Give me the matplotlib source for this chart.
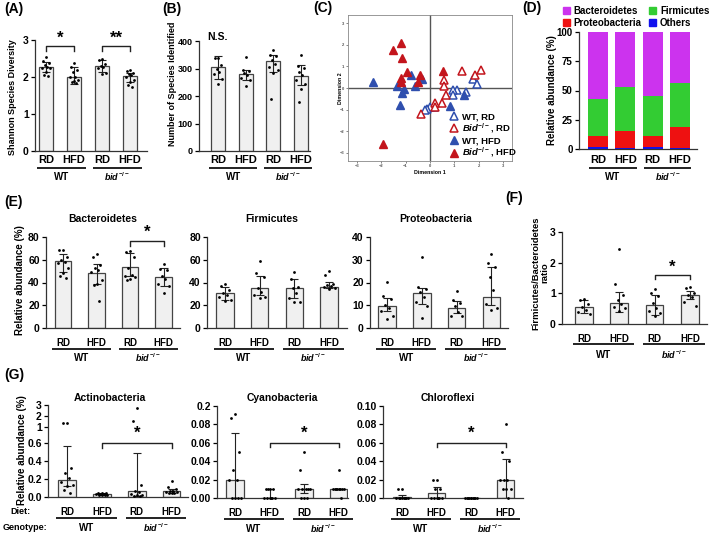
import numpy as np
import matplotlib
matplotlib.use('Agg')
import matplotlib.pyplot as plt
from matplotlib import transforms
from matplotlib.patches import Patch

plt.rcParams.update({'font.family': 'Liberation Sans', 'font.weight': 'bold',
                     'mathtext.fontset': 'custom',
                     'mathtext.rm': 'Liberation Sans:bold',
                     'mathtext.it': 'Liberation Sans:italic:bold',
                     'axes.linewidth': 0.9, 'axes.edgecolor': '#333333'})

W, H = 709, 534
diets = ['RD', 'HFD', 'RD', 'HFD']
genotypes = ['WT', r'$\mathit{bid}^{-/-}$']

# (A) Shannon species diversity
shannon_mean = [2.28, 1.99, 2.29, 2.02]
shannon_lo = [2.14, 1.81, 2.14, 1.87]
shannon_hi = [2.41, 2.28, 2.46, 2.11]
shannon_pts = [[2.55, 2.43, 2.37, 2.32, 2.28, 2.25, 2.23, 2.14, 2.05, 2.02],
               [2.37, 2.28, 2.20, 2.14, 2.00, 1.99, 1.93, 1.90, 1.87, 1.84],
               [2.50, 2.46, 2.35, 2.30, 2.28, 2.23, 2.11, 2.08],
               [2.20, 2.17, 2.11, 2.08, 2.05, 2.00, 1.93, 1.87, 1.78, 1.72]]

# (B) number of species
species_mean = [305, 279, 326, 273]
species_lo = [262, 260, 287, 239]
species_hi = [345, 296, 350, 311]
species_pts = [[340, 340, 312, 297, 287, 279, 263, 242],
               [342, 296, 291, 284, 275, 267, 257, 235],
               [366, 348, 344, 330, 315, 305, 293, 284, 190],
               [350, 309, 302, 287, 275, 257, 245, 227, 178]]

# (C) PCoA
wt_rd_x = [1.78, 1.92, 1.48, 1.12, 0.96, 0.93, 0.18, 0.0, -0.11, -0.2]
wt_rd_y = [0.4, 0.2, -0.18, -0.08, -0.08, -0.34, -0.88, -0.9, -0.95, -1.03]
bid_rd_x = [2.08, 1.85, 1.33, 0.59, 0.58, 0.64, 0.51, 0.22, 0.22, -0.38]
bid_rd_y = [0.85, 0.58, 0.78, 0.35, 0.08, -0.31, -0.69, -0.69, -0.88, -1.22]
wt_hfd_x = [-2.33, -1.37, -1.05, -1.16, -1.23, -0.77, -0.34, -0.62, 0.82, 1.4]
wt_hfd_y = [0.28, 0.08, -0.03, -0.22, -0.8, 0.58, 0.42, 0.08, -0.85, -0.32]
bid_hfd_x = [-1.21, -1.51, -1.15, -0.96, -1.19, -1.21, -0.41, -0.48, 0.52, -1.92]
bid_hfd_y = [2.08, 1.77, 1.4, 0.72, 0.46, 0.28, 0.58, 0.28, 0.78, -2.57]

# (D) phylum composition (%)
others = [1.7, 1.0, 1.7, 1.0]
proteo = [9.7, 14.3, 9.3, 17.5]
firmic = [31.2, 37.7, 34.0, 37.5]
bacter = [57.4, 47.0, 55.0, 44.0]

# (E) relative abundance
bact_mean = [58.7, 48, 54, 44.5]
bact_lo = [49.5, 39, 46, 37]
bact_hi = [65, 56, 66, 53]
bact_pts = [[69, 69, 62, 60, 58, 57, 53, 48, 46, 44],
            [65, 62, 55, 53, 51, 49, 42, 39, 38, 24],
            [68, 67, 62, 53, 47, 46, 45, 43, 42],
            [56, 52, 51, 46, 43, 39, 37, 30.5]]
firm_mean = [30.5, 35, 35, 36]
firm_lo = [25, 29, 26, 35]
firm_hi = [36, 45.6, 43, 40.7]
firm_pts = [[39, 37, 33, 30.5, 29, 27.6, 25, 24],
            [59, 48, 44.5, 35, 32, 29, 27.6, 26],
            [49.4, 43, 36, 35, 30.5, 26, 23, 23],
            [50, 47, 39, 38, 37, 36, 35, 34]]
prot_mean = [9.7, 15.6, 8.7, 13.8]
prot_lo = [7.6, 10.5, 6.5, 10.2]
prot_hi = [13, 17.5, 12, 26.9]
prot_pts = [[20.4, 14, 12.8, 9.9, 8.7, 7.3, 5.4, 3.9],
            [31, 18.2, 17, 15.7, 13.8, 11.6, 9.7, 4.4],
            [16.4, 12.4, 11.2, 9.5, 7, 5.4, 5.1],
            [32.4, 28.4, 26.6, 22.5, 16.7, 10.6, 8.7, 8]]

# (F) Firmicutes/Bacteroidetes ratio
fb_mean = [0.54, 0.70, 0.63, 0.95]
fb_lo = [0.36, 0.38, 0.30, 0.81]
fb_hi = [0.79, 1.04, 0.93, 1.08]
fb_pts = [[0.82, 0.79, 0.66, 0.55, 0.46, 0.38, 0.33],
          [2.46, 1.30, 0.95, 0.77, 0.66, 0.57, 0.52, 0.44],
          [1.13, 1.00, 0.90, 0.68, 0.52, 0.41, 0.36, 0.27],
          [1.20, 1.17, 1.00, 0.95, 0.87, 0.73, 0.59]]

# (G) minor phyla
act_mean = [0.19, 0.03, 0.065, 0.065]
act_lo = [0.12, 0.02, 0.01, 0.045]
act_hi = [0.57, 0.04, 0.49, 0.09]
act_pts = [[1.36, 1.36, 0.33, 0.27, 0.21, 0.17, 0.13, 0.12, 0.08, 0.05],
           [0.05, 0.04, 0.04, 0.03, 0.03, 0.03, 0.02, 0.02, 0.02, 0.02],
           [2.7, 1.6, 0.13, 0.07, 0.06, 0.03, 0.02, 0.02, 0.01, 0.01],
           [0.18, 0.11, 0.09, 0.07, 0.07, 0.06, 0.06, 0.05, 0.05, 0.04]]
cyan_mean = [0.02, 0.0, 0.01, 0.01]
cyan_lo = [0.0, 0.0, 0.005, 0.01]
cyan_hi = [0.07, 0.01, 0.015, 0.01]
cyan_pts = [[0.145, 0.12, 0.05, 0.03, 0.02, 0.02, 0, 0, 0, 0],
            [0.01, 0.01, 0.01, 0.01, 0, 0, 0, 0, 0, 0],
            [0.05, 0.03, 0.01, 0.01, 0.01, 0.01, 0.01, 0, 0, 0],
            [0.03, 0.01, 0.01, 0.01, 0.01, 0.01, 0.01, 0.01, 0.01, 0]]
chl_mean = [0.001, 0.005, 0.0, 0.02]
chl_lo = [0.0, 0.0, 0.0, 0.0]
chl_hi = [0.003, 0.012, 0.0, 0.042]
chl_pts = [[0.01, 0.01, 0, 0, 0, 0, 0, 0, 0, 0],
           [0.02, 0.02, 0.01, 0.01, 0, 0, 0, 0, 0, 0],
           [0, 0, 0, 0, 0, 0, 0, 0, 0, 0],
           [0.08, 0.05, 0.04, 0.02, 0.02, 0.02, 0.01, 0.01, 0.01, 0]]

fig = plt.figure(figsize=(W / 100, H / 100), dpi=100)


def px_axes(left, top, right, bottom):
    return fig.add_axes([left / W, 1 - bottom / H, (right - left) / W, (bottom - top) / H])


def ftext(x, y, s, **kw):
    fig.text(x / W, 1 - y / H, s, **kw)


def piecewise(ys, fs):
    ys, fs = np.asarray(ys, float), np.asarray(fs, float)

    def make(a, b):
        def f(v):
            v = np.asarray(v, float)
            out = np.interp(v, a, b)
            out = np.where(v < a[0], b[0] + (v - a[0]) * (b[1] - b[0]) / (a[1] - a[0]), out)
            out = np.where(v > a[-1], b[-1] + (v - a[-1]) * (b[-1] - b[-2]) / (a[-1] - a[-2]), out)
            return out
        return f
    return make(ys, fs), make(fs, ys)


jitter = np.array([0, -0.11, 0.11, -0.05, 0.05, -0.16, 0.16, 0.0, -0.08, 0.08])


def under_labels(ax, dl, dline, dg, fs=7, gfs=6.5):
    trans = transforms.blended_transform_factory(ax.transData, ax.transAxes)
    for i, d in enumerate(diets):
        ax.text(i, 0, d, transform=transforms.offset_copy(trans, fig, y=-dl, units='dots'),
                ha='center', va='center', fontsize=fs)
    for k, g in enumerate(genotypes):
        a = 2 * k
        ax.plot([a - 0.32, a + 1.42], [0, 0], color='#222222', lw=1.4, clip_on=False,
                solid_capstyle='butt',
                transform=transforms.offset_copy(trans, fig, y=-dline, units='dots'))
        ax.text(a + 0.55, 0, g, transform=transforms.offset_copy(trans, fig, y=-dg, units='dots'),
                ha='center', va='center', fontsize=gfs if k else gfs + 0.5)


def bar_panel(rect, c0, step, mean, lo, hi, pts, ylim, yticks, ticklabels=None,
              scale=None, offs=(15, 21, 30), fs=7, tfs=7.5):
    left, top, right, bottom = rect
    ax = px_axes(*rect)
    x = np.arange(4)
    mean, lo, hi = np.array(mean), np.array(lo), np.array(hi)
    if scale is not None:
        ax.set_yscale('function', functions=scale)
    ax.bar(x, mean, 0.5, color='#f0f0f0', edgecolor='#444444', lw=0.9, zorder=1)
    ax.errorbar(x, mean, yerr=[mean - lo, hi - mean], fmt='none', ecolor='#222222',
                elinewidth=0.8, capsize=2.6, capthick=0.8, zorder=2)
    for i, p in enumerate(pts):
        ax.scatter(i + jitter[:len(p)], p, s=4, color='k', lw=0, zorder=3, clip_on=False)
    ax.set_xlim((left - c0) / step, (right - c0) / step)
    ax.set_ylim(*ylim)
    ax.set_xticks([])
    ax.set_yticks(yticks)
    if ticklabels is not None:
        ax.set_yticklabels(ticklabels)
    ax.tick_params(axis='y', length=3, width=0.9, pad=1.5, labelsize=tfs)
    ax.spines[['top', 'right']].set_visible(False)
    under_labels(ax, *offs, fs=fs)
    return ax


def bracket(ax, x1, x2, y, drop, star, ystar, fs=12):
    ax.plot([x1, x1, x2, x2], [y - drop, y, y, y - drop], color='#222222', lw=1, clip_on=False)
    ax.text((x1 + x2) / 2, ystar, star, ha='center', va='center', fontsize=fs, clip_on=False)


# ---- (A)
ax = bar_panel((35, 40, 147, 151), 46, 28, shannon_mean, shannon_lo, shannon_hi, shannon_pts,
               (0, 3), [0, 1, 2, 3], offs=(9, 17, 26), fs=8)
bracket(ax, 0, 1, 2.84, 0.15, '*', 3.05)
bracket(ax, 2, 3, 2.84, 0.15, '**', 3.05)
ftext(13, 97, 'Shannon Species Diversity', rotation=90, ha='center', va='center', fontsize=6.5)
ftext(4, 9, '(A)', fontsize=10, va='center')

# ---- (B)
ax = bar_panel((199, 41, 310, 151), 218, 27.6, species_mean, species_lo, species_hi, species_pts,
               (0, 400), [0, 100, 200, 300, 400], offs=(9, 17, 26), fs=8, tfs=6.5)
ax.text(0, 413, 'N.S.', ha='center', va='center', fontsize=7.5, clip_on=False)
ftext(172.5, 84, 'Number of Species Identified', rotation=90, ha='center', va='center', fontsize=6.5)
ftext(162, 9, '(B)', fontsize=10, va='center')

# ---- (C)
ax = px_axes(348, 15, 512, 161)
blue, red = '#2f4fae', '#c3151c'
ms = 6
ax.plot(wt_rd_x, wt_rd_y, '^', ms=ms, mfc='white', mec=blue, mew=1.1, ls='none', label='WT, RD')
ax.plot(bid_rd_x, bid_rd_y, '^', ms=ms, mfc='white', mec=red, mew=1.1, ls='none',
        label=r'$\mathit{Bid}^{-/-}$, RD')
ax.plot(wt_hfd_x, wt_hfd_y, '^', ms=ms, color=blue, ls='none', label='WT, HFD')
ax.plot(bid_hfd_x, bid_hfd_y, '^', ms=ms, color=red, ls='none', label=r'$\mathit{Bid}^{-/-}$, HFD')
ax.axhline(0, color='#555555', lw=1, zorder=0)
ax.axvline(0, color='#555555', lw=1, zorder=0)
ax.set_xlim(-3.37, 3.37)
ax.set_ylim(-3.37, 3.37)
ax.set_xticks(range(-3, 4))
ax.set_yticks(range(-3, 4))
ax.tick_params(labelsize=3, length=1.5, width=0.5, pad=1, colors='#555555')
for s in ax.spines.values():
    s.set_color('#888888')
    s.set_linewidth(0.6)
ax.legend(loc='upper left', bbox_to_anchor=(450 / W, 1 - 112 / H), bbox_transform=fig.transFigure,
          frameon=False, fontsize=6.8, handlelength=0.9, handletextpad=0.4, labelspacing=0.08,
          borderpad=0, borderaxespad=0, markerscale=0.95)
ftext(430, 172, 'Dimension 1', ha='center', va='center', fontsize=3.8)
ftext(340, 88, 'Dimension 2', rotation=90, ha='center', va='center', fontsize=3.8)
ftext(313, 8, '(C)', fontsize=10, va='center')

# ---- (D)
ax = px_axes(579, 32, 697, 149)
x = np.arange(4)
cols = {'Bacteroidetes': '#cc33ee', 'Firmicutes': '#33cc33', 'Proteobacteria': '#ee1111', 'Others': '#1111ee'}
ax.bar(x, others, 0.73, color=cols['Others'])
ax.bar(x, proteo, 0.73, bottom=others, color=cols['Proteobacteria'])
b2 = np.array(others) + np.array(proteo)
ax.bar(x, firmic, 0.73, bottom=b2, color=cols['Firmicutes'])
ax.bar(x, bacter, 0.73, bottom=b2 + np.array(firmic), color=cols['Bacteroidetes'])
ax.set_xlim((579 - 598) / 27.3, (697 - 598) / 27.3)
ax.set_ylim(0, 100)
ax.set_xticks([])
ax.set_yticks([0, 25, 50, 75, 100])
ax.tick_params(axis='y', length=3, width=0.9, pad=1.5, labelsize=7)
ax.spines[['top', 'right']].set_visible(False)
under_labels(ax, 11, 19, 28, fs=8)
order = ['Bacteroidetes', 'Proteobacteria', 'Firmicutes', 'Others']
fig.legend([Patch(color=cols[p]) for p in order], order, ncol=2,
           loc='upper left', bbox_to_anchor=(558 / W, 1 - 1 / H), frameon=False, fontsize=7,
           handlelength=0.7, handleheight=0.7, handletextpad=0.4, labelspacing=0.25,
           columnspacing=0.8, borderpad=0)
ftext(552, 90, 'Relative abundance (%)', rotation=90, ha='center', va='center', fontsize=7)
ftext(522, 8, '(D)', fontsize=10, va='center')

# ---- (E)
ax = bar_panel((46, 237, 180, 328), 63, 33.5, bact_mean, bact_lo, bact_hi, bact_pts,
               (0, 80), [0, 20, 40, 60, 80])
bracket(ax, 2, 3, 76.5, 4, '*', 84)
ax = bar_panel((207, 237, 347, 328), 225, 34.7, firm_mean, firm_lo, firm_hi, firm_pts,
               (0, 80), [0, 20, 40, 60, 80])
ax = bar_panel((370, 237, 508, 328), 387, 34.8, prot_mean, prot_lo, prot_hi, prot_pts,
               (0, 40), [0, 10, 20, 30, 40])
ftext(103, 219, 'Bacteroidetes', ha='center', va='center', fontsize=7.5)
ftext(272, 219, 'Firmicutes', ha='center', va='center', fontsize=7.5)
ftext(436, 219, 'Proteobacteria', ha='center', va='center', fontsize=7.5)
ftext(20, 280, 'Relative abundance (%)', rotation=90, ha='center', va='center', fontsize=7)
ftext(4, 202, '(E)', fontsize=10, va='center')

# ---- (F)
ax = bar_panel((562, 232, 707, 324), 584, 35.3, fb_mean, fb_lo, fb_hi, fb_pts,
               (0, 3), [0, 1, 2, 3], offs=(15, 20, 31))
bracket(ax, 2, 3, 1.6, 0.12, '*', 1.85)
ftext(540, 273, 'Firmicutes/Bacteroidetes\nratio', rotation=90, ha='center', va='center',
      fontsize=6.8, linespacing=1.0)
ftext(505, 198, '(F)', fontsize=10, va='center')

# ---- (G)
act_scale = piecewise([0, 0.6, 1, 3], [0, 0.6, 0.78, 1.03])
ax = bar_panel((48, 405, 188, 497), 67, 34.9, act_mean, act_lo, act_hi, act_pts,
               (0, 3), [0, 0.2, 0.4, 0.6, 1, 2, 3],
               ['0.0', '0.2', '0.4', '0.6', '1', '2', '3'], scale=act_scale, offs=(15, 21, 31))
bracket(ax, 1, 3, 0.6, 0.05, '*', 0.86)
cyan_scale = piecewise([0, 0.08, 0.2], [0, 0.08, 0.0995])
ax = bar_panel((217, 406, 348, 498), 235, 34.5, cyan_mean, cyan_lo, cyan_hi, cyan_pts,
               (0, 0.2), [0, 0.02, 0.04, 0.06, 0.08, 0.2],
               ['0.00', '0.02', '0.04', '0.06', '0.08', '0.2'], scale=cyan_scale, offs=(15, 21, 31))
bracket(ax, 1, 3, 0.06, 0.005, '*', 0.07)
ax = bar_panel((383, 406, 523, 498), 402, 34.5, chl_mean, chl_lo, chl_hi, chl_pts,
               (0, 0.1), [0, 0.02, 0.04, 0.06, 0.08, 0.10],
               ['0.00', '0.02', '0.04', '0.06', '0.08', '0.10'], offs=(15, 21, 31))
bracket(ax, 1, 3, 0.06, 0.005, '*', 0.07)
ftext(110, 398, 'Actinobacteria', ha='center', va='center', fontsize=7.5)
ftext(282, 398, 'Cyanobacteria', ha='center', va='center', fontsize=7.5)
ftext(448, 398, 'Chloroflexi', ha='center', va='center', fontsize=7.5)
ftext(22, 450, 'Relative abundance (%)', rotation=90, ha='center', va='center', fontsize=7)
ftext(10, 512, 'Diet:', va='center', fontsize=6.5)
ftext(3, 527, 'Genotype:', va='center', fontsize=6.5)
ftext(4, 375, '(G)', fontsize=10, va='center')

fig.savefig('out.png', dpi=100)
